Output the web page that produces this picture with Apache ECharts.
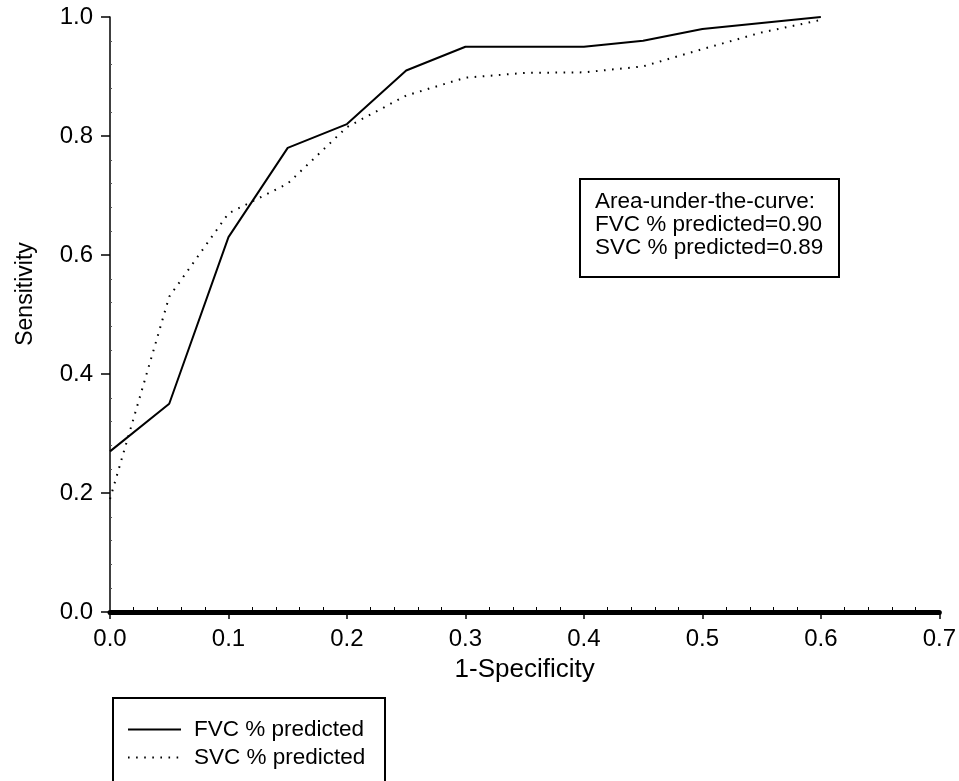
<!DOCTYPE html>
<html>
<head>
<meta charset="utf-8">
<script src="https://cdn.jsdelivr.net/npm/echarts@6/dist/echarts.min.js"></script>
<style>html,body{margin:0;padding:0;background:#fff;}#c{width:959px;height:781px;}</style>
</head>
<body>
<div id="c"></div>
<script>
var xTicks = [0.0, 0.1, 0.2, 0.3, 0.4, 0.5, 0.6, 0.7];
var yTicks = [0.0, 0.2, 0.4, 0.6, 0.8, 1.0];
var fvcX = [0.00, 0.05, 0.10, 0.15, 0.20, 0.25, 0.30, 0.35, 0.40, 0.45, 0.50, 0.55, 0.60];
var fvcY = [0.27, 0.35, 0.63, 0.78, 0.82, 0.91, 0.95, 0.95, 0.95, 0.96, 0.98, 0.99, 1.00];
var svcX = [0.00, 0.05, 0.10, 0.15, 0.20, 0.25, 0.30, 0.35, 0.40, 0.45, 0.50, 0.55, 0.60];
var svcY = [0.19, 0.53, 0.67, 0.72, 0.815, 0.868, 0.898, 0.906, 0.907, 0.917, 0.946, 0.974, 0.995];
var seriesNames = ['FVC % predicted', 'SVC % predicted'];
var aucLines = ['Area-under-the-curve:', 'FVC % predicted=0.90', 'SVC % predicted=0.89'];

function pairs(xs, ys) { return xs.map(function (x, i) { return [x, ys[i]]; }); }

var FONT = 'Liberation Sans, Arial, sans-serif';
var chart = echarts.init(document.getElementById('c'), null, { renderer: 'canvas' });
chart.setOption({
  backgroundColor: '#fff',
  animation: false,
  grid: { left: 110, right: 17, top: 17, bottom: 169, containLabel: false },
  xAxis: {
    type: 'value', min: xTicks[0], max: xTicks[xTicks.length - 1], interval: 0.1,
    name: '1-Specificity', nameLocation: 'middle', nameGap: 45,
    nameTextStyle: { fontFamily: FONT, fontSize: 26, color: '#000' },
    axisLine: { onZero: false, lineStyle: { color: '#000', width: 5 } },
    axisTick: { show: true, length: 7, lineStyle: { color: '#000', width: 1.5 } },
    minorTick: { show: true, splitNumber: 5, length: -5, lineStyle: { color: '#000', width: 1 } },
    axisLabel: { fontFamily: FONT, fontSize: 24, color: '#000', margin: 15, formatter: function (v) { return v.toFixed(1); } },
    splitLine: { show: false }, minorSplitLine: { show: false }
  },
  yAxis: {
    type: 'value', min: yTicks[0], max: yTicks[yTicks.length - 1], interval: 0.2,
    axisLine: { show: true, onZero: false, lineStyle: { color: '#000', width: 1.5 } },
    axisTick: { show: true, length: 9, lineStyle: { color: '#000', width: 1.5 } },
    minorTick: { show: true, splitNumber: 5, length: -2, lineStyle: { color: '#555', width: 1 } },
    axisLabel: { fontFamily: FONT, fontSize: 24, color: '#000', margin: 17, formatter: function (v) { return v.toFixed(1); } },
    splitLine: { show: false }, minorSplitLine: { show: false }
  },
  legend: {
    orient: 'vertical', left: 122, top: 713, itemWidth: 53, itemHeight: 14, itemGap: 5,
    data: seriesNames,
    itemStyle: { opacity: 0 },
    textStyle: { fontFamily: FONT, fontSize: 22.5, color: '#000', padding: [0, 0, 0, 8] }
  },
  graphic: [
    { type: 'rect', left: 112, top: 697, shape: { width: 272, height: 120 }, style: { fill: '#fff', stroke: '#000', lineWidth: 2 }, z: 0 },
    { type: 'rect', left: 579, top: 178, shape: { width: 259, height: 98 }, style: { fill: '#fff', stroke: '#000', lineWidth: 2 }, z: 10 },
    { type: 'text', left: 595, top: 190, z: 11, style: { text: aucLines.join('\n'), fontFamily: FONT, fontSize: 22.5, lineHeight: 23, fill: '#000' } },
    { type: 'text', x: 26, y: 294, rotation: Math.PI / 2, z: 11, style: { text: 'Sensitivity', fontFamily: FONT, fontSize: 23, fill: '#000', align: 'center', verticalAlign: 'middle' } }
  ],
  series: [
    { name: seriesNames[0], type: 'line', data: pairs(fvcX, fvcY), showSymbol: false, symbol: 'none',
      lineStyle: { color: '#000', width: 2 }, itemStyle: { color: '#000' }, z: 3 },
    { name: seriesNames[1], type: 'line', data: pairs(svcX, svcY), showSymbol: false, symbol: 'none',
      lineStyle: { color: '#000', width: 2, type: [1.6, 6.5] }, itemStyle: { color: '#000' }, z: 3 }
  ]
});
</script>
</body>
</html>
